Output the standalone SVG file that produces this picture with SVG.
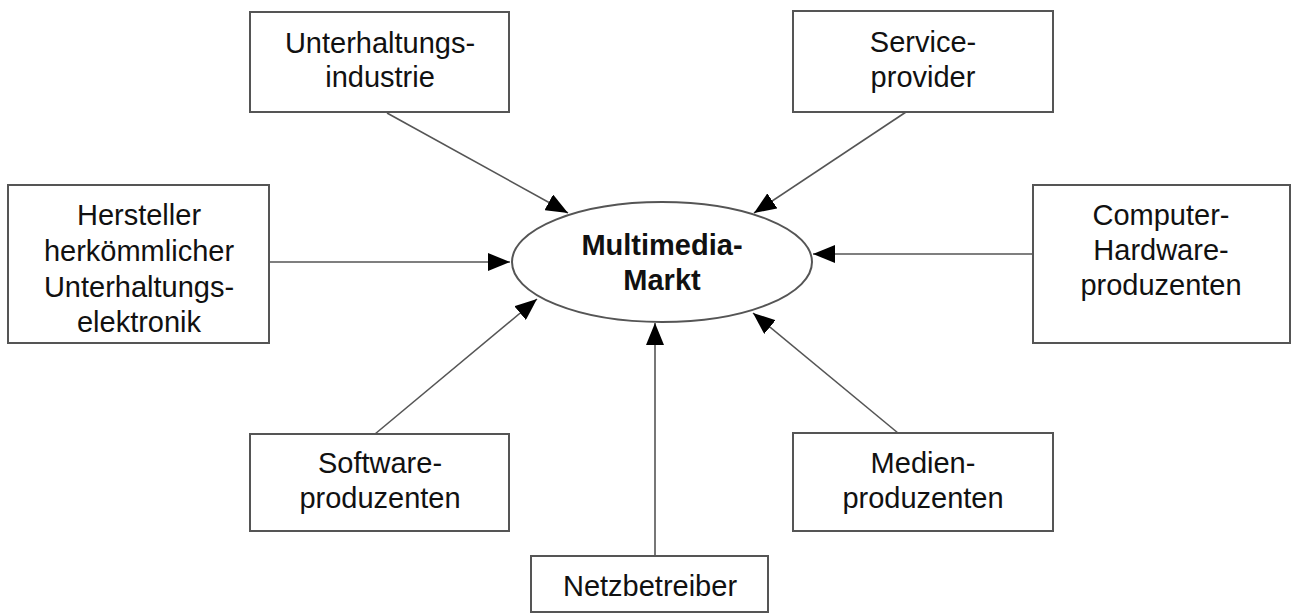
<svg xmlns="http://www.w3.org/2000/svg" width="1293" height="614" viewBox="0 0 1293 614">
<style>
.box{fill:#fff;stroke:#555;stroke-width:2}
.t{font-family:"Liberation Sans",Arial,sans-serif;font-size:29px;fill:#111;text-anchor:middle}
.b{font-weight:bold}
.c{stroke:#555;stroke-width:1.6;fill:none}
</style>
<defs>
<marker id="ah" viewBox="0 0 22 18" refX="22" refY="9" markerWidth="22" markerHeight="18" markerUnits="userSpaceOnUse" orient="auto">
<path d="M0,0 L22,9 L0,18 Z" fill="#000"/>
</marker>
</defs>
<rect width="1293" height="614" fill="#fff"/>
<g id="connectors">
<line class="c" x1="387" y1="113" x2="568" y2="213" marker-end="url(#ah)"/>
<line class="c" x1="906" y1="112" x2="754" y2="213" marker-end="url(#ah)"/>
<line class="c" x1="269" y1="262" x2="510" y2="262" marker-end="url(#ah)"/>
<line class="c" x1="1033" y1="254" x2="813" y2="254" marker-end="url(#ah)"/>
<line class="c" x1="375" y1="434" x2="537" y2="299" marker-end="url(#ah)"/>
<line class="c" x1="898" y1="433" x2="753" y2="313" marker-end="url(#ah)"/>
<line class="c" x1="655" y1="556" x2="655" y2="323" marker-end="url(#ah)"/>
</g>
<g id="markt">
<ellipse cx="662" cy="262" rx="150" ry="60" fill="#fff" stroke="#555" stroke-width="2"/>
<text class="t b" x="662" y="255">Multimedia-</text>
<text class="t b" x="662" y="290">Markt</text>
</g>
<g id="unterhaltungsindustrie">
<rect class="box" x="250" y="12" width="259" height="100"/>
<text class="t" x="380" y="53">Unterhaltungs-</text>
<text class="t" x="380" y="87">industrie</text>
</g>
<g id="serviceprovider">
<rect class="box" x="793" y="11" width="260" height="101"/>
<text class="t" x="923" y="52">Service-</text>
<text class="t" x="923" y="87">provider</text>
</g>
<g id="hersteller">
<rect class="box" x="8" y="185" width="261" height="158"/>
<text class="t" x="139" y="225">Hersteller</text>
<text class="t" x="139" y="261">herkömmlicher</text>
<text class="t" x="139" y="297">Unterhaltungs-</text>
<text class="t" x="139" y="332">elektronik</text>
</g>
<g id="computer">
<rect class="box" x="1033" y="185" width="257" height="158"/>
<text class="t" x="1161" y="225">Computer-</text>
<text class="t" x="1161" y="260">Hardware-</text>
<text class="t" x="1161" y="295">produzenten</text>
</g>
<g id="software">
<rect class="box" x="250" y="434" width="259" height="97"/>
<text class="t" x="380" y="473">Software-</text>
<text class="t" x="380" y="508">produzenten</text>
</g>
<g id="medien">
<rect class="box" x="793" y="433" width="260" height="98"/>
<text class="t" x="923" y="473">Medien-</text>
<text class="t" x="923" y="508">produzenten</text>
</g>
<g id="netzbetreiber">
<rect class="box" x="531" y="556" width="237" height="56"/>
<text class="t" x="650" y="596">Netzbetreiber</text>
</g>
</svg>
